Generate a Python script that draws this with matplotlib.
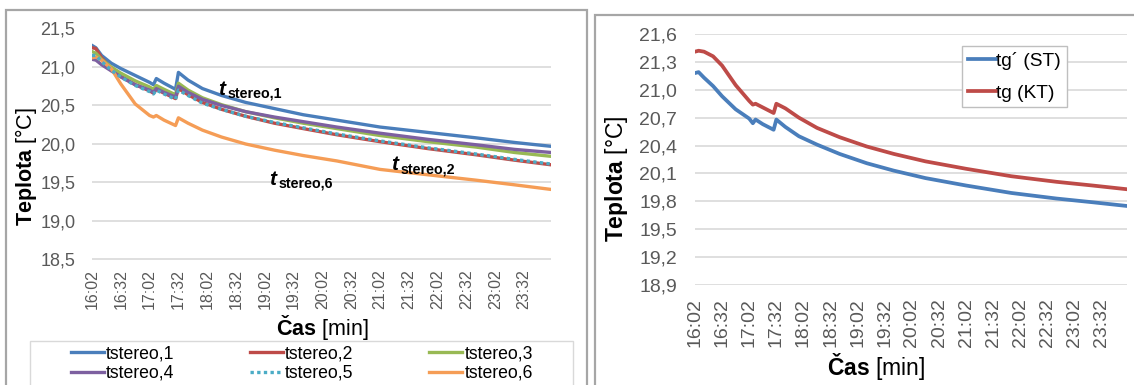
import matplotlib
matplotlib.use("Agg")
import matplotlib.pyplot as plt
from matplotlib.patches import Rectangle

plt.rcParams['font.family'] = ['Liberation Sans', 'DejaVu Sans']
plt.rcParams['mathtext.fontset'] = 'custom'
plt.rcParams['mathtext.rm'] = 'Liberation Sans'
plt.rcParams['mathtext.bf'] = 'Liberation Sans:bold'
plt.rcParams['mathtext.it'] = 'Liberation Sans:italic:bold'

# ---------------- data ----------------
# minutes after 16:02
minutes = [0, 4, 10, 20, 30, 45, 60, 64, 67, 75, 87, 90, 100, 115, 135, 160,
           190, 220, 255, 300, 350, 400, 440, 478]
tick_minutes = [0, 30, 60, 90, 120, 150, 180, 210, 240, 270, 300, 330, 360, 390, 420, 450]
tick_labels = ["16:02", "16:32", "17:02", "17:32", "18:02", "18:32", "19:02", "19:32",
               "20:02", "20:32", "21:02", "21:32", "22:02", "22:32", "23:02", "23:32"]

tstereo1 = [21.28, 21.25, 21.15, 21.05, 20.98, 20.89, 20.80, 20.77, 20.85, 20.79, 20.71, 20.93,
            20.83, 20.72, 20.63, 20.54, 20.46, 20.38, 20.31, 20.22, 20.15, 20.08, 20.02, 19.97]
tstereo2 = [21.25, 21.24, 21.12, 20.98, 20.88, 20.77, 20.69, 20.66, 20.71, 20.66, 20.59, 20.72,
            20.64, 20.54, 20.45, 20.36, 20.27, 20.20, 20.12, 20.03, 19.94, 19.86, 19.79, 19.73]
tstereo3 = [21.20, 21.18, 21.10, 21.00, 20.92, 20.82, 20.74, 20.71, 20.76, 20.71, 20.64, 20.79,
            20.70, 20.60, 20.51, 20.42, 20.34, 20.27, 20.20, 20.11, 20.03, 19.96, 19.89, 19.84]
tstereo4 = [21.10, 21.09, 21.03, 20.95, 20.87, 20.77, 20.70, 20.67, 20.72, 20.67, 20.61, 20.75,
            20.67, 20.58, 20.50, 20.42, 20.35, 20.29, 20.22, 20.14, 20.06, 19.99, 19.93, 19.89]
tstereo5 = [21.15, 21.15, 21.07, 20.96, 20.87, 20.76, 20.68, 20.65, 20.70, 20.65, 20.58, 20.70,
            20.63, 20.53, 20.45, 20.36, 20.28, 20.21, 20.13, 20.04, 19.95, 19.87, 19.80, 19.74]
tstereo6 = [21.12, 21.13, 21.09, 20.98, 20.78, 20.52, 20.37, 20.35, 20.37, 20.31, 20.24, 20.34,
            20.27, 20.18, 20.09, 20.00, 19.92, 19.85, 19.78, 19.67, 19.60, 19.53, 19.47, 19.41]

tg_st = [21.18, 21.19, 21.13, 21.04, 20.93, 20.79, 20.69, 20.64, 20.68, 20.63, 20.57, 20.68,
         20.60, 20.50, 20.41, 20.31, 20.21, 20.13, 20.05, 19.97, 19.89, 19.83, 19.79, 19.75]
tg_kt = [21.41, 21.42, 21.41, 21.36, 21.26, 21.05, 20.88, 20.84, 20.85, 20.81, 20.75, 20.85,
         20.80, 20.70, 20.59, 20.49, 20.39, 20.31, 20.23, 20.15, 20.07, 20.01, 19.97, 19.93]

left_yticks = [18.5, 19.0, 19.5, 20.0, 20.5, 21.0, 21.5]
left_ylabels = ["18,5", "19,0", "19,5", "20,0", "20,5", "21,0", "21,5"]
right_yticks = [18.9, 19.2, 19.5, 19.8, 20.1, 20.4, 20.7, 21.0, 21.3, 21.6]
right_ylabels = ["18,9", "19,2", "19,5", "19,8", "20,1", "20,4", "20,7", "21,0", "21,3", "21,6"]

left_names = ["tstereo,1", "tstereo,2", "tstereo,3", "tstereo,4", "tstereo,5", "tstereo,6"]
right_names = ["tg\u00b4 (ST)", "tg (KT)"]
annot_subs = ["stereo,1", "stereo,6", "stereo,2"]

# ---------------- styles ----------------
W, H = 1134, 385
C_BLUE = '#4A7EBB'
C_RED = '#BE4B48'
C_GREEN = '#98B954'
C_PURPLE = '#7D60A0'
C_AQUA = '#4BACC6'
C_ORANGE = '#F59D56'
GRID = '#D9D9D9'
TICK = '#595959'

fig = plt.figure(figsize=(W / 100, H / 100), dpi=100)


def fx(px):
    return px / W


def fy(py):
    return 1 - py / H


def axes_px(l, t, r, b):
    return fig.add_axes([fx(l), fy(b), fx(r) - fx(l), (b - t) / H])


# panel borders
fig.patches.append(Rectangle((fx(6), fy(395)), fx(587) - fx(6), (395 - 10) / H,
                             transform=fig.transFigure, fill=False, edgecolor='#A6A6A6', lw=1.6))
fig.patches.append(Rectangle((fx(594.5), fy(395)), fx(1145) - fx(594.5), (395 - 14.5) / H,
                             transform=fig.transFigure, fill=False, edgecolor='#A6A6A6', lw=1.6))


def style_axes(ax, yticks, ylabels, ypad, xpad, yfs, xfs):
    for s in ax.spines.values():
        s.set_visible(False)
    ax.set_yticks(yticks)
    ax.set_yticklabels(ylabels)
    ax.set_xticks(tick_minutes)
    ax.set_xticklabels(tick_labels, rotation=90)
    ax.tick_params(axis='y', length=0, pad=ypad, labelsize=yfs, labelcolor=TICK)
    ax.tick_params(axis='x', length=0, pad=xpad, labelsize=xfs, labelcolor=TICK)
    ax.grid(axis='y', color=GRID, lw=1.2)
    ax.set_axisbelow(True)
    ax.set_xlim(0, 478)
    for lab in ax.get_xticklabels():
        lab.set_va('top')


# ---------------- left chart ----------------
axL = axes_px(92, 28.5, 551, 259.5)
lw = 2.4
lines = []
lines.append(axL.plot(minutes, tstereo1, color=C_BLUE, lw=lw, zorder=3)[0])
lines.append(axL.plot(minutes, tstereo2, color=C_RED, lw=lw, zorder=3)[0])
lines.append(axL.plot(minutes, tstereo3, color=C_GREEN, lw=lw, zorder=3)[0])
lines.append(axL.plot(minutes, tstereo4, color=C_PURPLE, lw=lw, zorder=3)[0])
lines.append(axL.plot(minutes, tstereo5, color=C_AQUA, lw=lw, ls=(0, (1, 1)), zorder=4)[0])
lines.append(axL.plot(minutes, tstereo6, color=C_ORANGE, lw=lw, zorder=3)[0])
axL.set_ylim(18.5, 21.5)
style_axes(axL, left_yticks, left_ylabels, 12, 7, 13, 11.5)

order = [0, 3, 1, 4, 2, 5]
fig.legend([lines[i] for i in order], [left_names[i] for i in order], ncol=3,
           loc='upper left', bbox_to_anchor=(fx(67.5), fy(342)), frameon=False,
           fontsize=12.7, handlelength=1.875, handletextpad=0.11, columnspacing=4.29,
           labelspacing=0.14, borderpad=0.2, borderaxespad=0)
fig.patches.append(Rectangle((fx(30), fy(395)), fx(573) - fx(30), (395 - 341) / H,
                             transform=fig.transFigure, fill=False, edgecolor=GRID, lw=1.0))

fig.text(fx(26), fy(166), r"$\mathbf{Teplota}$ [°C]", rotation=90, ha='center', va='center',
         fontsize=15.5)
fig.text(fx(322), fy(328), r"$\mathbf{Čas}$ [min]", ha='center', va='center', fontsize=15.5)

# annotations: bold italic "t" with bold subscript
ann_pos = [(218, 95), (269, 185), (391, 170)]
for (ax_, ay_), sub in zip(ann_pos, annot_subs):
    fig.text(fx(ax_), fy(ay_), "t", ha='left', va='baseline', fontsize=15,
             fontweight='bold', fontstyle='italic')
    fig.text(fx(ax_ + 9.5), fy(ay_ + 3), sub, ha='left', va='baseline', fontsize=10.3,
             fontweight='bold')

# ---------------- right chart ----------------
axR = axes_px(695, 34, 1127, 285)
l1 = axR.plot(minutes, tg_st, color=C_BLUE, lw=2.7, zorder=3)[0]
l2 = axR.plot(minutes, tg_kt, color=C_RED, lw=2.7, zorder=3)[0]
axR.set_ylim(18.9, 21.6)
style_axes(axR, right_yticks, right_ylabels, 13, 9.5, 14, 14)

axR.legend([l1, l2], right_names, loc='upper left', bbox_to_anchor=(fx(962), fy(46)),
           bbox_transform=fig.transFigure, fontsize=13.8, handlelength=1.45, handletextpad=0.05,
           labelspacing=0.75, borderpad=0.3, borderaxespad=0, frameon=True, fancybox=False,
           edgecolor='#BFBFBF', framealpha=1)

fig.text(fx(616), fy(179), r"$\mathbf{Teplota}$ [°C]", rotation=90, ha='center', va='center',
         fontsize=16.5)
fig.text(fx(876), fy(367), r"$\mathbf{Čas}$ [min]", ha='center', va='center', fontsize=16.5)

fig.savefig("out.png", dpi=100)
